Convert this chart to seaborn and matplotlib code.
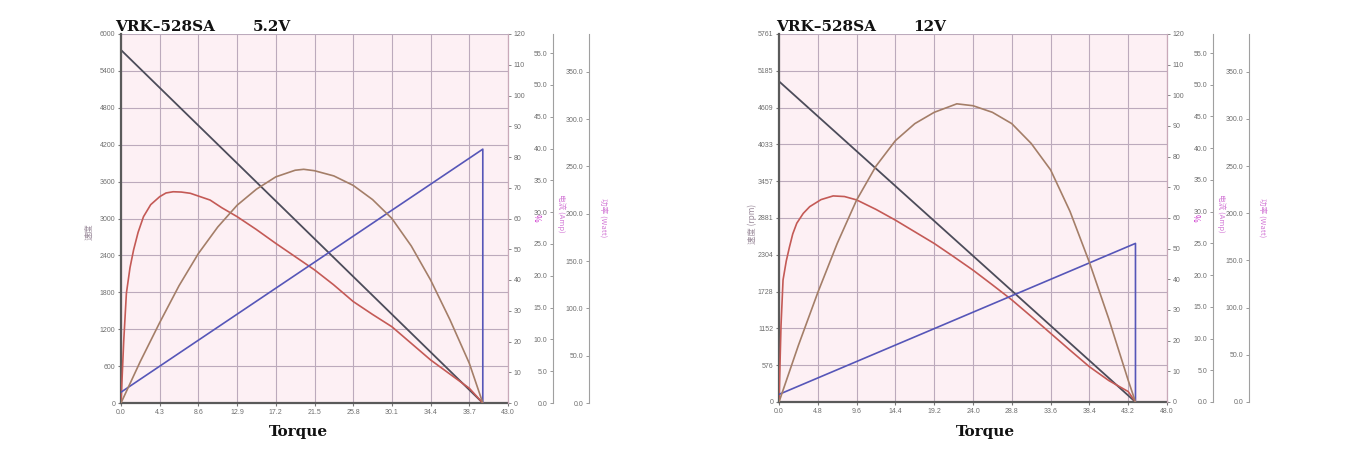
import matplotlib
matplotlib.use("Agg")
import matplotlib.pyplot as plt
import seaborn as sns
import pandas as pd

# ---------------- data ----------------
# Left chart: VRK-528SA 5.2V
L_XTICKS = [0.0, 4.3, 8.6, 12.9, 17.2, 21.5, 25.8, 30.1, 34.4, 38.7, 43.0]
L_YTICKS = [0, 600, 1200, 1800, 2400, 3000, 3600, 4200, 4800, 5400, 6000]
L_YTICKLABELS = ["0", "600", "1200", "1800", "2400", "3000", "3600", "4200", "4800", "5400", "6000"]
L_SPEED_T = [0.0, 40.2]
L_SPEED = [5740, 0]
L_CUR_T = [0.0, 40.2, 40.2]
L_CUR = [1.7, 39.9, 0.0]
L_EFF_T = [0.0, 0.3, 0.6, 1.0, 1.4, 1.9, 2.5, 3.3, 4.3, 5.0, 5.8, 6.7, 7.7, 8.6, 9.9, 11.2,
           12.9, 15.0, 17.2, 19.35, 21.5, 23.6, 25.8, 27.95, 30.1, 32.25, 34.4, 36.55, 38.7, 40.2]
L_EFF = [0.0, 20.0, 35.7, 44.0, 49.8, 55.5, 60.6, 64.5, 67.1, 68.3, 68.7, 68.6, 68.2, 67.3, 66.0, 63.5,
         60.6, 56.5, 51.9, 47.6, 43.3, 38.5, 33.0, 28.8, 24.8, 19.4, 14.0, 9.4, 4.8, 0.0]
L_POW_T = [0.0, 2.15, 4.3, 6.45, 8.6, 10.75, 12.9, 15.05, 17.2, 19.35, 20.3, 21.5, 23.65, 25.8,
           27.95, 30.1, 32.25, 34.4, 36.55, 38.7, 40.2]
L_POW = [0.0, 44.0, 85.0, 124.0, 158.0, 186.0, 209.0, 226.0, 239.0, 246.0, 247.0, 245.5, 240.0, 230.0,
         215.0, 195.0, 166.0, 130.0, 88.0, 42.0, 0.0]

# Right chart: VRK-528SA 12V
R_XTICKS = [0.0, 4.8, 9.6, 14.4, 19.2, 24.0, 28.8, 33.6, 38.4, 43.2, 48.0]
R_YTICKS = [0, 576, 1152, 1728, 2304, 2881, 3457, 4033, 4609, 5185, 5761]
R_YTICKLABELS = ["0", "576", "1152", "1728", "2304", "2881", "3457", "4033", "4609", "5185", "5761"]
R_SPEED_T = [0.0, 44.1]
R_SPEED = [5020, 0]
R_CUR_T = [0.0, 44.1, 44.1]
R_CUR = [1.2, 25.0, 0.0]
R_EFF_T = [0.0, 0.25, 0.5, 0.9, 1.3, 1.7, 2.2, 3.0, 3.8, 5.2, 6.7, 8.1, 9.6, 12.0, 14.4, 16.8,
           19.2, 21.6, 24.0, 26.4, 28.8, 31.2, 33.6, 36.0, 38.4, 40.8, 43.2, 44.1]
R_EFF = [0.0, 25.0, 39.8, 46.0, 50.6, 54.8, 58.3, 61.5, 63.7, 66.0, 67.2, 67.0, 65.9, 62.8, 59.3, 55.5,
         51.7, 47.4, 43.0, 38.2, 33.3, 27.9, 22.4, 16.9, 11.5, 7.0, 3.4, 0.0]
R_POW_T = [0.0, 2.4, 4.8, 7.2, 9.6, 12.0, 14.4, 16.8, 19.2, 22.0, 24.0, 26.4, 28.8, 31.2, 33.6,
           36.0, 38.4, 40.8, 43.2, 44.1]
R_POW = [0.0, 60.0, 116.0, 168.0, 214.0, 250.0, 277.0, 295.0, 307.0, 316.0, 314.0, 307.0, 295.0, 274.0,
         246.0, 202.0, 148.0, 88.0, 23.0, 0.0]

EFF_TICKS = [0, 10, 20, 30, 40, 50, 60, 70, 80, 90, 100, 110, 120]
CUR_TICKS = [0, 5, 10, 15, 20, 25, 30, 35, 40, 45, 50, 55]
CUR_TICKLABELS = ["0.0", "5.0", "10.0", "15.0", "20.0", "25.0", "30.0", "35.0", "40.0", "45.0", "50.0", "55.0"]
POW_TICKS = [0, 50, 100, 150, 200, 250, 300, 350]
POW_TICKLABELS = ["0.0", "50.0", "100.0", "150.0", "200.0", "250.0", "300.0", "350.0"]

# ---------------- style ----------------
sns.set_theme(style="white")
plt.rcParams["font.family"] = ["Noto Sans CJK SC", "DejaVu Sans"]
plt.rcParams["lines.solid_joinstyle"] = "round"

W, H = 1346, 466
fig = plt.figure(figsize=(W / 100, H / 100), dpi=100)
fig.patch.set_facecolor("white")

TICK_FONT = dict(family="Liberation Sans", size=5)
TICK_COLOR = "#6e6e6e"
SERIF = ["DejaVu Serif"]

C_SPEED = "#4c4c5a"
C_CUR = "#5656b8"
C_EFF = "#c45a56"
C_POW = "#a47e68"
C_GRID = "#bcaabc"
C_LABEL = "#d37ad6"


def fx(px):
    return px / W


def fy(py):
    return 1 - py / H


def style_ticks(a, axis="y"):
    for lab in (a.get_yticklabels() if axis == "y" else a.get_xticklabels()):
        lab.set_fontfamily(TICK_FONT["family"])
        lab.set_fontsize(TICK_FONT["size"])
        lab.set_color(TICK_COLOR)


def panel(x0, x1, y0, y1, xticks, yticks, yticklabels,
          sp_t, sp, cur_t, cur, eff_t, eff, pow_t, pow_, cur_px, pow_px):
    ax = fig.add_axes([fx(x0), fy(y1), fx(x1) - fx(x0), (y1 - y0) / H])
    ax.set_facecolor("#fdf0f4")
    ax2 = ax.twinx()
    ax3 = ax.twinx()
    ax4 = ax.twinx()

    sns.lineplot(data=pd.DataFrame({"T": sp_t, "v": sp}), x="T", y="v", ax=ax,
                 color=C_SPEED, linewidth=1.3, estimator=None, sort=False, legend=False)
    sns.lineplot(data=pd.DataFrame({"T": eff_t, "v": eff}), x="T", y="v", ax=ax2,
                 color=C_EFF, linewidth=1.2, estimator=None, sort=False, legend=False)
    sns.lineplot(data=pd.DataFrame({"T": cur_t, "v": cur}), x="T", y="v", ax=ax3,
                 color=C_CUR, linewidth=1.2, estimator=None, sort=False, legend=False)
    sns.lineplot(data=pd.DataFrame({"T": pow_t, "v": pow_}), x="T", y="v", ax=ax4,
                 color=C_POW, linewidth=1.2, estimator=None, sort=False, legend=False)

    ax.set_xlim(xticks[0], xticks[-1])
    ax.set_ylim(yticks[0], yticks[-1])
    ax.set_xticks(xticks)
    ax.set_xticklabels([f"{t:.1f}" for t in xticks])
    ax.set_yticks(yticks)
    ax.set_yticklabels(yticklabels)
    ax.grid(True, color=C_GRID, linewidth=0.8)
    ax.set_axisbelow(True)
    ax.set_xlabel("")
    ax.set_ylabel("")
    for s in ["top", "right"]:
        ax.spines[s].set_visible(False)
    for s in ["left", "bottom"]:
        ax.spines[s].set_color("#5a5a5a")
        ax.spines[s].set_linewidth(1.6)
    ax.tick_params(axis="both", direction="out", length=2.5, width=0.8,
                   color="#777777", pad=1.5, left=True, bottom=True)
    style_ticks(ax, "x")
    style_ticks(ax, "y")

    ax2.set_ylim(0, 120)
    ax2.set_yticks(EFF_TICKS)
    ax2.set_yticklabels([str(v) for v in EFF_TICKS])
    ax2.set_ylabel("")
    for s in ["top", "left", "bottom"]:
        ax2.spines[s].set_visible(False)
    ax2.spines["right"].set_color("#c9a9b9")
    ax2.spines["right"].set_linewidth(0.9)
    ax2.tick_params(axis="y", direction="out", length=2.5, width=0.7,
                    color="#888888", pad=1.5, right=True)
    style_ticks(ax2)

    w = x1 - x0
    for a, lim, ticks, labels, px in [(ax3, 58, CUR_TICKS, CUR_TICKLABELS, cur_px),
                                      (ax4, 390, POW_TICKS, POW_TICKLABELS, pow_px)]:
        a.set_ylim(0, lim)
        a.set_yticks(ticks)
        a.set_yticklabels(labels)
        a.yaxis.set_ticks_position("left")
        a.spines["left"].set_position(("axes", 1 + (px - x1) / w))
        a.spines["left"].set_color("#a0a0a0")
        a.spines["left"].set_linewidth(0.8)
        for s in ["top", "right", "bottom"]:
            a.spines[s].set_visible(False)
        a.set_ylabel("")
        a.tick_params(axis="y", direction="out", length=2.5, width=0.7,
                      color="#999999", pad=1.5)
        style_ticks(a)
    return ax


panel(121, 508, 34, 403, L_XTICKS, L_YTICKS, L_YTICKLABELS,
      L_SPEED_T, L_SPEED, L_CUR_T, L_CUR, L_EFF_T, L_EFF, L_POW_T, L_POW, 553, 589)
panel(779, 1167, 34, 402, R_XTICKS, R_YTICKS, R_YTICKLABELS,
      R_SPEED_T, R_SPEED, R_CUR_T, R_CUR, R_EFF_T, R_EFF, R_POW_T, R_POW, 1213, 1249)

# titles
for x, s in [(115, "VRK–528SA"), (253, "5.2V"), (776, "VRK–528SA"), (913, "12V")]:
    fig.text(fx(x), fy(27), s, family=SERIF, weight="bold", size=11,
             ha="left", va="center", color="#111111")

# x-axis titles
for x in (298, 985):
    fig.text(fx(x), fy(432), "Torque", family=SERIF, weight="bold", size=11,
             ha="center", va="center", color="#111111")

# y-axis labels
fig.text(fx(89), fy(232), "速度", size=6, rotation=90, ha="center", va="center", color="#9a8a9a")
fig.text(fx(752), fy(224), "速度 (rpm)", size=6, rotation=90, ha="center", va="center", color="#9a8a9a")
for x in (536, 1195):
    fig.text(fx(x), fy(218), "%", size=6, rotation=270, ha="center", va="center", color="#cc33cc")
for x in (561, 1221):
    fig.text(fx(x), fy(213), "电流 (Amp)", size=5.5, rotation=270, ha="center", va="center", color=C_LABEL)
for x in (603, 1262):
    fig.text(fx(x), fy(218), "功率 (Watt)", size=5.5, rotation=270, ha="center", va="center", color=C_LABEL)

fig.savefig("out.png", dpi=100, facecolor="white")
